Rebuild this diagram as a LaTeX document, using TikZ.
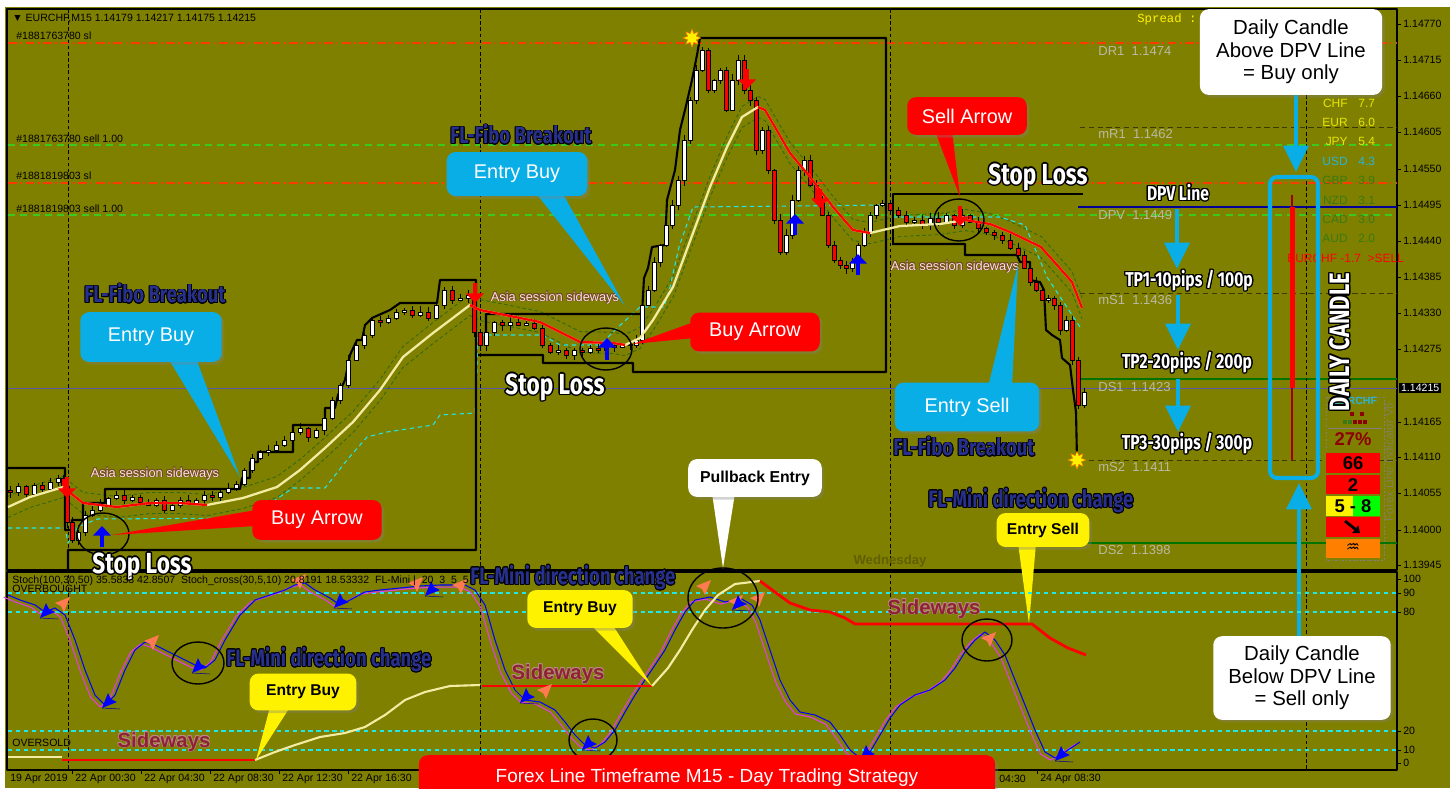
\documentclass[tikz,border=0pt]{standalone}
\usepackage{fontspec}
\setmainfont{Liberation Sans}
\setmonofont{Liberation Mono}
\newfontfamily\impactfont[FakeStretch=0.78]{Fira Sans}
\newfontfamily\dejavu{DejaVu Sans}
\usepackage{contour}
\contourlength{0.7pt}
\usetikzlibrary{arrows.meta, shapes.geometric, shadows, calc}

\definecolor{olivebg}{HTML}{808000}
\definecolor{calloutblue}{HTML}{0AAEE6}
\definecolor{creamline}{HTML}{F2EDA2}
\definecolor{navytext}{HTML}{28308E}
\definecolor{levelgray}{HTML}{B9B9A6}
\definecolor{sidewaysred}{HTML}{8E2233}
\definecolor{sidewaysedge}{HTML}{B98A86}
\definecolor{slred}{HTML}{FF3A00}
\definecolor{sellgreen}{HTML}{3CC81E}
\definecolor{envgreen}{HTML}{2F6A14}
\definecolor{stopcyan}{HTML}{22E6E6}
\definecolor{curyellow}{HTML}{E6E600}
\definecolor{curcyan}{HTML}{2AB4D8}
\definecolor{curgreen}{HTML}{3A7A12}
\definecolor{darkred}{HTML}{8B0000}
\definecolor{salmondart}{HTML}{FF7A50}
\definecolor{stochmag}{HTML}{E23CE6}

% small FL-Mini darts in the oscillator window
\newcommand{\dartup}[2]{\fill[salmondart, shift={(#1,#2)}] (8,-8) -- (-7,-2) -- (-1,1) -- (2,7) -- cycle;}
\newcommand{\dartdown}[2]{\fill[blue, shift={(#1,#2)}] (-8,8) -- (7,2) -- (1,-1) -- (-2,-7) -- cycle;
  \draw[blue!60!black, line width=0.3pt, shift={(#1,#2)}] (-8,8) -- (10,9);}

% moving average of the price window
\newcommand{\maline}[1]{\draw[#1] plot coordinates {(8,507) (30,497) (60,488) (63,487) (83,503) (117,507) (150,503) (180,503) (207,505) (243,498) (277,487) (300,470) (325,448) (353,422) (380,390) (403,357) (433,333) (470,305) (480,310) (540,322) (580,342) (613,343) (625,345) (640,338) (653,320) (673,287) (693,233) (710,187) (727,147) (742,117) (758,107) (765,110) (790,153) (810,177) (833,207) (853,230) (870,233) (900,226) (940,224) (965,220) (990,224) (1010,232) (1041,247) (1072,282) (1082,308)};}

% stochastic line of the oscillator window
\newcommand{\stochline}[1]{\draw[#1] plot coordinates {(8,595) (20,600) (35,605) (45,612) (55,608) (65,615) (75,640) (85,670) (95,695) (105,705) (115,695) (125,670) (135,650) (145,642) (155,645) (165,650) (175,655) (185,660) (195,665) (205,668) (215,660) (225,640) (240,615) (255,600) (270,595) (285,590) (295,585) (305,583) (315,590) (330,598) (340,605) (350,600) (365,592) (380,590) (400,588) (420,586) (440,585) (465,585) (475,590) (485,605) (495,640) (505,670) (515,690) (525,700) (540,702) (555,710) (565,722) (575,735) (585,745) (595,748) (605,742) (615,730) (625,712) (635,695) (645,680) (655,665) (665,650) (675,630) (685,612) (695,600) (710,597) (725,602) (740,598) (752,605) (760,620) (770,650) (780,680) (790,700) (800,712) (815,715) (830,722) (840,735) (850,750) (860,758) (870,752) (880,735) (890,718) (900,705) (915,695) (930,690) (945,680) (955,668) (965,652) (975,640) (985,632) (995,640) (1005,655) (1015,680) (1025,705) (1035,730) (1045,752) (1055,758) (1065,752) (1080,742)};}

\begin{document}
\begin{tikzpicture}[x=0.02cm, y=-0.02cm, line join=round,
  channel/.style={black, line width=1.2pt},
  ordersl/.style={slred, line width=0.6pt, dash pattern=on 5pt off 2pt on 1pt off 2pt},
  ordersell/.style={sellgreen, line width=0.6pt, dash pattern=on 4pt off 3pt},
  sep/.style={black, line width=0.45pt, dash pattern=on 2pt off 1.5pt},
  cyandash/.style={stopcyan, line width=0.6pt, dash pattern=on 2.5pt off 2pt},
  lvl/.style={text=levelgray, font=\fontsize{7.4}{8}\selectfont, anchor=west, inner sep=0pt},
  mt/.style={font=\fontsize{6}{7}\selectfont, inner sep=0pt, anchor=west},
  axislab/.style={font=\fontsize{6}{7}\selectfont, inner sep=0pt, anchor=west},
  sellarr/.style={red, line width=2.4pt, -{Triangle[length=5.5pt, width=10pt]}},
  buyarr/.style={blue, line width=2.4pt, -{Triangle[length=5.5pt, width=10pt]}},
  bigarr/.style={calloutblue, line width=2.6pt, -{Triangle[length=15pt, width=14pt]}},
  callout/.style={rounded corners=5pt, inner sep=0pt, align=center,
    drop shadow={opacity=0.35, shadow xshift=1.5pt, shadow yshift=-1.5pt}},
  callblue/.style={callout, fill=calloutblue, text=white, font=\fontsize{11.3}{13}\selectfont},
  callred/.style={callout, fill=red, text=white, font=\fontsize{11.3}{13}\selectfont},
  callwhite/.style={callout, fill=white, text=black, font=\fontsize{11.6}{12.8}\selectfont},
  callyellow/.style={callout, fill=yellow, text=black, font=\bfseries\fontsize{8.9}{10}\selectfont},
  stoploss/.style={text=white, inner sep=0pt, font=\contourlength{0.8pt}\impactfont\bfseries\fontsize{16.5}{18}\selectfont},
  tplabel/.style={text=white, inner sep=1pt, font=\contourlength{0.7pt}\impactfont\bfseries\fontsize{11.4}{13}\selectfont},
  fibo/.style={text=navytext, inner sep=0pt, font=\contourlength{0.5pt}\impactfont\bfseries\fontsize{13.5}{15}\selectfont},
  sideways/.style={text=sidewaysred, inner sep=0pt, font=\contourlength{0.3pt}\fontsize{11.6}{13}\selectfont},
  asia/.style={text=white!88!red, inner sep=0pt, font=\contourlength{0.35pt}\fontsize{7.3}{8}\selectfont},
  indbox/.style={inner sep=0pt, font=\bfseries\fontsize{10.5}{12}\selectfont},
  fivestar/.style={star, star points=8, star point ratio=1.9, fill=yellow, draw=orange, line width=0.3pt, inner sep=0pt, minimum size=10pt}]

\useasboundingbox (0,0) rectangle (1450,788);
\fill[white] (0,0) rectangle (1450,788);
\fill[olivebg] (5,7) rectangle (1450,788);
\draw[black, line width=0.8pt] (7,9) rectangle (1397,570);
\draw[black, line width=0.8pt] (7,572) rectangle (1397,770);

% price window
\draw[ordersl] (8,43) -- (1397,43);
\draw[ordersell] (8,145) -- (1397,145);
\draw[ordersl] (8,183) -- (1397,183);
\draw[ordersell] (8,215) -- (1397,215);
\draw[black!55!olivebg, line width=0.5pt, dash pattern=on 3pt off 2pt] (1080,127) -- (1397,127);
\draw[black!55!olivebg, line width=0.5pt, dash pattern=on 3pt off 2pt] (1080,293) -- (1397,293);
\draw[black!55!olivebg, line width=0.5pt, dash pattern=on 3pt off 2pt] (1080,460) -- (1397,460);
\draw[green!45!black, line width=0.7pt] (1080,379) -- (1397,379);
\draw[green!45!black, line width=0.7pt] (1080,543) -- (1397,543);
\draw[blue!60!black, line width=0.6pt] (1078,207) -- (1397,207);
\draw[gray!70!blue, line width=0.5pt] (8,388) -- (1397,388);
\foreach \sx in {68,480,890,1306} {
  \draw[sep] (\sx,9) -- (\sx,770);
}

\node[mt] (header) at (12,18) {▼ EURCHF,M15  1.14179 1.14217 1.14175 1.14215};
\node[mt] (slA) at (16,36) {\#1881763780 sl};
\node[mt] (sellA) at (16,139) {\#1881763780 sell 1.00};
\node[mt] (slB) at (16,176) {\#1881819803 sl};
\node[mt] (sellB) at (16,209) {\#1881819803 sell 1.00};

\maline{envgreen, line width=0.5pt, dash pattern=on 2pt off 1.5pt, yshift=6pt}
\maline{envgreen, line width=0.5pt, dash pattern=on 2pt off 1.5pt, yshift=-6pt}

\draw[cyandash] (8,528) -- (65,528) -- (68,543) -- (78,527) -- (97,519) -- (248,518) -- (293,488) -- (325,488) -- (347,460) -- (367,437) -- (387,432) -- (433,425) -- (440,415) -- (475,413) -- (477,372) -- (478,335) -- (542,335) -- (560,345) -- (600,345) -- (615,330) -- (640,307) -- (664,307) -- (670,287) -- (679,247) -- (693,207) -- (887,205);
\draw[cyandash] (893,217) -- (1000,217) -- (1025,225) -- (1047,277) -- (1080,327);

% breakout channels
\draw[channel] (8,468) -- (65,468) -- (65,530) -- (72,530) -- (72,520) -- (83,520) -- (83,503) -- (105,503) -- (105,489) -- (240,489) -- (242,478) -- (250,478) -- (250,462) -- (258,462) -- (258,452) -- (293,452) -- (293,425) -- (325,425) -- (325,408) -- (335,408) -- (338,395) -- (345,380) -- (350,355) -- (357,340) -- (362,340) -- (365,325) -- (372,318) -- (390,310) -- (400,303) -- (437,303) -- (440,280) -- (476,280) -- (476,550) -- (68,550) -- (68,570);
\draw[channel] (486,345) -- (486,314) -- (642,314) -- (644,278) -- (648,268) -- (652,247) -- (665,245) -- (667,200) -- (675,170) -- (680,130) -- (685,110) -- (692,80) -- (697,55) -- (700,38) -- (886,38) -- (886,372) -- (633,372) -- (633,363) -- (543,363) -- (543,355) -- (478,355);
\draw[channel] (893,245) -- (893,194) -- (1083,194);
\draw[channel] (893,244) -- (965,244) -- (965,255) -- (1017,255) -- (1020,262) -- (1030,262) -- (1030,280) -- (1040,282) -- (1044,290) -- (1046,330) -- (1052,335) -- (1060,340) -- (1062,358) -- (1070,365) -- (1073,390) -- (1076,412) -- (1077,460);

% candles
\pgfmathsetseed{11}
\foreach \x/\y [remember=\y as \py (initially 490)] in {10/492, 18/486, 26/494, 34/485, 42/489, 50/482, 58/478, 63/486, 67/522, 72/540, 78/532, 85/515, 92/510, 100/505, 108/498, 116/495, 124/500, 132/497, 140/502, 148/505, 156/500, 164/510, 172/505, 180/500, 188/503, 196/500, 204/495, 212/497, 220/492, 228/488, 236/484, 244/470, 252/458, 260/452, 268/450, 276/445, 284/440, 292/432, 300/428, 308/437, 316/430, 324/418, 332/400, 340/385, 348/360, 356/345, 364/335, 372/320, 380/322, 388/318, 396/312, 404/310, 412/315, 420/312, 428/318, 436/305, 444/290, 452/300, 460/298, 468/295, 474/332, 480/345, 486/332, 494/322, 502/325, 510/322, 518/325, 526/323, 534/328, 542/345, 550/352, 558/350, 566/355, 574/350, 582/352, 590/348, 598/350, 606/345, 614/347, 622/344, 630/345, 636/340, 642/305, 648/290, 654/262, 660/245, 666/225, 672/205, 678/180, 684/140, 690/100, 696/70, 702/50, 708/90, 714/80, 720/70, 726/110, 732/80, 738/60, 744/90, 750/100, 756/150, 762/130, 768/170, 774/220, 780/252, 786/235, 792/200, 798/170, 804/160, 810/185, 816/200, 822/215, 828/245, 834/260, 840/265, 846/268, 852/262, 858/245, 864/232, 870/215, 876/205, 882/203, 890/210, 898/215, 906/222, 914/220, 922/225, 930/218, 938/222, 946/215, 954/225, 962/215, 970/222, 978/228, 986/232, 994/235, 1002/240, 1010/248, 1018/255, 1024/268, 1030/282, 1036/290, 1042/300, 1048/298, 1054/305, 1060/330, 1066/320, 1072/360, 1078/405, 1084/392} {
  \pgfmathsetmacro{\wtop}{min(\y,\py)-1-5*rnd}
  \pgfmathsetmacro{\wbot}{max(\y,\py)+1+5*rnd}
  \draw[black, line width=0.4pt] (\x,\wtop) -- (\x,\wbot);
  \ifdim\y pt<\py pt \def\candlefill{white}\else\def\candlefill{red}\fi
  \filldraw[draw=black, line width=0.25pt, fill=\candlefill] (\x-2,\py) rectangle (\x+2,\y);
}

\maline{creamline, line width=1.3pt}
\draw[red, line width=1.3pt] plot coordinates {(63,487) (83,503) (117,507) (150,503) (180,503) (207,505)};
\draw[red, line width=1.3pt] plot coordinates {(470,305) (480,310) (540,322) (580,342) (613,343) (625,345)};
\draw[red, line width=1.3pt] plot coordinates {(758,107) (765,110) (790,153) (810,177) (833,207) (853,230) (870,233)};
\draw[red, line width=1.3pt] plot coordinates {(965,220) (990,224) (1010,232) (1041,247) (1072,282) (1082,308)};

\node[fivestar] (peak) at (692,38) {};
\node[fivestar] (low) at (1077,460) {};

\draw[sellarr] (67,477) -- (67,498);
\draw[sellarr] (475,283) -- (475,303);
\draw[sellarr] (747,69) -- (747,89);
\draw[sellarr] (820,189) -- (820,208);
\draw[sellarr] (960,206) -- (960,226);
\draw[buyarr] (102,547) -- (102,526);
\draw[buyarr] (607,360) -- (607,338);
\draw[buyarr] (795,235) -- (795,214);
\draw[buyarr] (858,275) -- (858,254);

\draw[black, line width=0.8pt] (103,534) ellipse [x radius=26, y radius=21];
\draw[black, line width=0.8pt] (606,349) ellipse [x radius=26, y radius=21];
\draw[black, line width=0.8pt] (959,220) ellipse [x radius=25, y radius=21];

\node[asia] (asiaA) at (155,474) {\contour{brown!60!black}{Asia session sideways}};
\node[asia] (asiaB) at (555,298) {\contour{brown!60!black}{Asia session sideways}};
\node[asia] (asiaC) at (955,267) {\contour{brown!60!black}{Asia session sideways}};

\node[lvl] (dr1) at (1098,51) {DR1\ \ 1.1474};
\node[lvl] (mr1) at (1098,134) {mR1\ \ 1.1462};
\node[lvl] (dpv) at (1098,215) {DPV\ \ 1.1449};
\node[lvl] (ms1) at (1098,300) {mS1\ \ 1.1436};
\node[lvl] (ds1) at (1098,387) {DS1\ \ 1.1423};
\node[lvl] (ms2) at (1098,467) {mS2\ \ 1.1411};
\node[lvl] (ds2) at (1098,550) {DS2\ \ 1.1398};
\node[text=yellow, font=\ttfamily\fontsize{7}{8}\selectfont, anchor=west, inner sep=0pt] (spread) at (1137,19) {Spread :};
\node[text=olivebg!75!black, font=\bfseries\fontsize{7.5}{8}\selectfont, inner sep=0pt] (wed) at (890,561) {Wednesday};

\node[stoploss] (stopA) at (142,567) {\contour{black}{Stop Loss}};
\node[stoploss] (stopB) at (555,388) {\contour{black}{Stop Loss}};
\node[stoploss] (stopC) at (1038,178) {\contour{black}{Stop Loss}};
\node[fibo] (fiboA) at (155,294) {\contour{black}{FL-Fibo Breakout}};
\node[fibo] (fiboB) at (521,135) {\contour{black}{FL-Fibo Breakout}};
\node[fibo] (fiboC) at (964,447) {\contour{black}{FL-Fibo Breakout}};

% callouts of the price window
\fill[calloutblue] (168,358) -- (196,358) -- (240,477) -- cycle;
\node[callblue, minimum width=80.5pt, minimum height=28.3pt] (ebuyA) at (151,337) {Entry Buy};
\fill[calloutblue] (535,192) -- (562,192) -- (625,306) -- cycle;
\node[callblue, minimum width=80pt, minimum height=25pt] (ebuyB) at (517,174) {Entry Buy};
\fill[calloutblue] (988,387) -- (1012,387) -- (1018,265) -- cycle;
\node[callblue, minimum width=82.2pt, minimum height=27.8pt] (esellA) at (967,407) {Entry Sell};
\fill[red] (256,510) -- (256,526) -- (112,535) -- cycle;
\node[callred, minimum width=73.7pt, minimum height=22.7pt] (barrowA) at (317,520) {Buy Arrow};
\fill[red] (694,322) -- (694,338) -- (633,344) -- cycle;
\node[callred, minimum width=73.7pt, minimum height=22.1pt] (barrowB) at (755,332) {Buy Arrow};
\fill[red] (935,131) -- (952,131) -- (960,197) -- cycle;
\node[callred, minimum width=68pt, minimum height=21.5pt] (sarrow) at (967,116) {Sell Arrow};
\fill[white] (712,493) -- (735,493) -- (723,568) -- cycle;
\node[callwhite, font=\bfseries\fontsize{9}{10}\selectfont, minimum width=76pt, minimum height=21.5pt] (pullback) at (755,478) {Pullback Entry};
\fill[yellow] (1018,543) -- (1036,543) -- (1029,624) -- cycle;
\node[callyellow, minimum width=52.7pt, minimum height=19.3pt] (ysell) at (1043,530) {Entry Sell};

% daily candle and targets
\node[tplabel] (dpvline) at (1178,193) {\contour{black}{DPV Line}};
\node[tplabel] (tpA) at (1189,281) {\contour{black}{TP1-10pips / 100p}};
\node[tplabel] (tpB) at (1187,363) {\contour{black}{TP2-20pips / 200p}};
\node[tplabel] (tpC) at (1187,444) {\contour{black}{TP3-30pips / 300p}};
\draw[bigarr] (1177,209) -- (1177,269);
\draw[bigarr] (1178,295) -- (1178,350);
\draw[bigarr] (1178,379) -- (1178,432);

\foreach \cur/\val/\col/\yy in {CHF/7.7/curyellow/103, EUR/6.0/curyellow/122, JPY/5.4/curyellow/141, USD/4.3/curcyan/161, GBP/3.9/curgreen/180, NZD/3.1/curgreen/200, CAD/3.0/curgreen/219, AUD/2.0/curgreen/238} {
  \node[text=\col, font=\fontsize{6.8}{8}\selectfont, anchor=east, inner sep=0pt] (cur\yy) at (1348,\yy) {\cur};
  \node[text=\col, font=\fontsize{6.8}{8}\selectfont, anchor=west, inner sep=0pt] (val\yy) at (1358,\yy) {\val};
}
\node[text=red, font=\fontsize{6.8}{8}\selectfont, anchor=west, inner sep=0pt] (pairsig) at (1287,258) {EURCHF -1.7 \ >SELL};

\draw[darkred!80!red, line width=0.6pt] (1292,195) -- (1292,460);
\fill[red] (1290,207) rectangle (1295,388);
\draw[calloutblue, line width=2.3pt, rounded corners=4pt] (1270,177) rectangle (1318,478);
\coordinate (dcupper) at (1296,172);
\coordinate (dclower) at (1299,483);
\draw[bigarr] (1296,95) -- (dcupper);
\node[callwhite, minimum width=103.7pt, minimum height=48.8pt] (dcabove) at (1291,52) {Daily Candle\\Above DPV Line\\= Buy only};
\draw[bigarr] (1299,637) -- (dclower);
\node[callwhite, minimum width=101pt, minimum height=47.6pt] (dcbelow) at (1302,678) {Daily Candle\\Below DPV Line\\= Sell only};

\draw[gray, line width=0.3pt, dash pattern=on 1pt off 1pt] (1326,397) rectangle (1384,560);
\node[text=curcyan, font=\bfseries\fontsize{6}{7}\selectfont, inner sep=0pt] (indpair) at (1355,401) {EURCHF};
\foreach \dx/\dc in {1345/curgreen, 1350/curgreen, 1355/darkred, 1360/darkred, 1365/darkred} {
  \fill[\dc] (\dx-1.8,420) rectangle (\dx+1.8,424);
}
\fill[darkred] (1350.2,412) rectangle (1353.8,416);
\fill[darkred] (1360.2,412) rectangle (1363.8,416);
\draw[gray, line width=0.4pt] (1328,428) -- (1382,428);
\node[text=darkred, indbox] (pct) at (1353,439) {27\%};
\fill[red] (1326,453) rectangle (1380,473);
\node[indbox] (cntA) at (1353,463) {66};
\fill[red] (1326,475) rectangle (1380,494);
\node[indbox] (cntB) at (1353,485) {2};
\fill[yellow] (1326,496) rectangle (1353,516);
\fill[green] (1353,496) rectangle (1380,516);
\node[indbox] (range) at (1353,506) {5 - 8};
\fill[red] (1326,517) rectangle (1380,537);
\draw[black, line width=1.6pt, -{Triangle[length=3.5pt, width=5.5pt]}] (1345,521) -- (1360,533);
\fill[orange] (1326,539) rectangle (1380,558);
\node[font=\dejavu\fontsize{9}{10}\selectfont, inner sep=0pt] (wave) at (1353,548) {♒};
\node[text=gray!70!olivebg, font=\fontsize{6.5}{7}\selectfont, rotate=90, inner sep=0pt] (indname) at (1389,462) {Forex Line Indicator V6};
\node[stoploss, font=\contourlength{0.8pt}\impactfont\bfseries\fontsize{16}{18}\selectfont, rotate=90] (dailyc) at (1340,342) {\contour{black}{DAILY CANDLE}};

% oscillator window
\foreach \ly in {593,612,731,750} {
  \draw[cyandash] (8,\ly) -- (1397,\ly);
}
\stochline{stochmag, line width=0.6pt, xshift=-2.5pt, yshift=-1.2pt}
\stochline{blue, line width=0.6pt}
\draw[creamline, line width=1.2pt] (8,757) -- (62,757);
\draw[red, line width=1.6pt] (62,760) -- (255,760);
\draw[creamline, line width=1.2pt] plot coordinates {(255,760) (275,752) (295,745) (320,737) (345,733) (365,727) (385,715) (405,700) (425,692) (450,686) (480,685)};
\draw[red, line width=1.6pt] (482,686) -- (652,686);
\draw[creamline, line width=1.2pt] plot coordinates {(652,686) (668,668) (680,650) (692,630) (705,610) (718,595) (735,584) (760,581)};
\draw[red, line width=1.6pt] plot coordinates {(760,581) (775,592) (790,603) (810,610) (830,612) (845,618) (855,624) (1032,624) (1050,638) (1068,648) (1086,655)};

\foreach \mx/\my in {62/605, 151/643, 298/582, 415/585, 459/587, 544/692, 703/588, 735/603, 757/600, 988/640} {
  \dartup{\mx}{\my}
}
\foreach \mx/\my in {48/610, 110/700, 200/665, 342/600, 433/588, 528/695, 590/742, 740/602, 868/752, 1063/753} {
  \dartdown{\mx}{\my}
}

\draw[black, line width=0.8pt] (198,663) ellipse [x radius=26, y radius=21];
\draw[black, line width=0.8pt] (593,740) ellipse [x radius=24, y radius=21];
\draw[black, line width=0.8pt] (723,598) ellipse [x radius=35, y radius=30];
\draw[black, line width=0.8pt] (987,640) ellipse [x radius=25, y radius=21];

\node[mt] (stochhead) at (12,581) {Stoch(100,30,50) 35.5833 42.8507 \ Stoch\_cross(30,5,10) 20.8191 18.53332 \ FL-Mini | \ 20 \ 3 \ 5 \ 5 |};
\node[mt] (obought) at (12,589) {OVERBOUGHT};
\node[mt] (osold) at (12,743) {OVERSOLD};

\node[fibo, anchor=west] (miniA) at (226,660) {\contour{black}{FL-Mini direction change}};
\node[fibo, anchor=west] (miniB) at (470,578) {\contour{black}{FL-Mini direction change}};
\node[fibo, anchor=west] (miniC) at (928,501) {\contour{black}{FL-Mini direction change}};
\node[sideways] (sideA) at (164,742) {\contour{sidewaysedge}{\bfseries Sideways}};
\node[sideways] (sideB) at (558,674) {\contour{sidewaysedge}{\bfseries Sideways}};
\node[sideways] (sideC) at (934,609) {\contour{sidewaysedge}{\bfseries Sideways}};

\fill[yellow] (590,624) -- (612,624) -- (652,686) -- cycle;
\node[callyellow, minimum width=60pt, minimum height=21.5pt] (ybuyA) at (580,609) {Entry Buy};
\fill[yellow] (270,707) -- (290,707) -- (256,760) -- cycle;
\node[callyellow, minimum width=60.7pt, minimum height=21pt] (ybuyB) at (303,692) {Entry Buy};

% price and time scales
\foreach \pv/\py in {1.14770/24, 1.14715/60, 1.14660/96, 1.14605/132, 1.14550/169, 1.14495/205, 1.14440/241, 1.14385/277, 1.14330/313, 1.14275/349, 1.14165/422, 1.14110/457, 1.14055/493, 1.14000/530, 1.13945/565} {
  \draw[black, line width=0.4pt] (1397,\py) -- (1401,\py);
  \node[axislab] (p\py) at (1403,\py) {\pv};
}
\node[fill=black, text=white, font=\fontsize{6}{7}\selectfont, inner sep=1pt, anchor=west] (lastprice) at (1399,388) {1.14215};
\foreach \ov/\oy in {100/579, 90/593, 80/612, 20/731, 10/750, 0/763} {
  \draw[black, line width=0.4pt] (1397,\oy) -- (1401,\oy);
  \node[axislab] (o\oy) at (1403,\oy) {\ov};
}
\node[axislab] (t0) at (10,779) {19 Apr 2019};
\foreach \tx/\tl in {72/22 Apr 00:30, 141/22 Apr 04:30, 210/22 Apr 08:30, 279/22 Apr 12:30, 348/22 Apr 16:30, 1037/24 Apr 08:30} {
  \draw[black, line width=0.4pt] (\tx,770) -- (\tx,774);
  \node[axislab] (t\tx) at (\tx+3,779) {\tl};
}
\node[axislab] (t969) at (999,779) {04:30};
\node[callred, font=\fontsize{10.8}{12}\selectfont, minimum width=328pt, minimum height=26pt] (banner) at (707,778) {Forex Line Timeframe M15 - Day Trading Strategy};
\end{tikzpicture}
\end{document}
